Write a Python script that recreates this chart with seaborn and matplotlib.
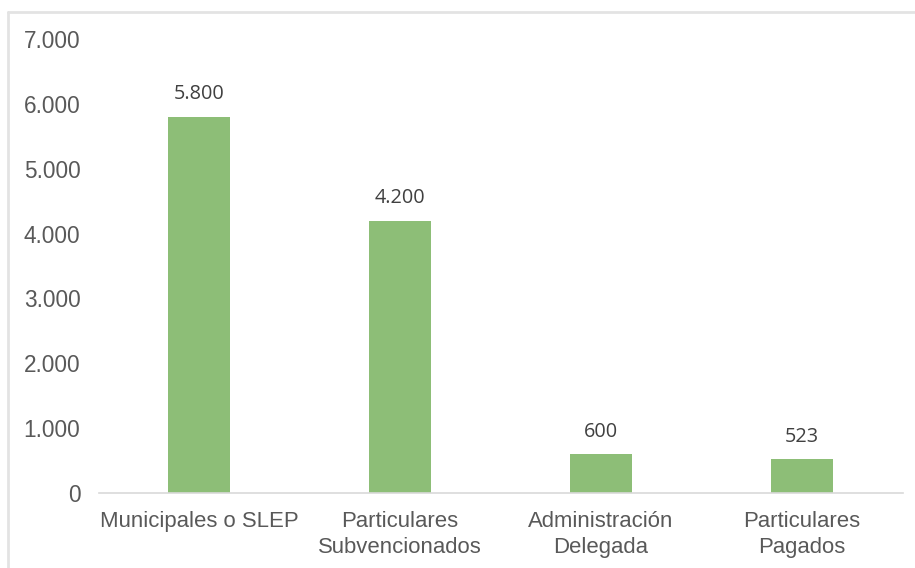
import matplotlib
matplotlib.use("Agg")
import matplotlib.pyplot as plt
from matplotlib.lines import Line2D
import seaborn as sns
import pandas as pd

categorias = ["Municipales o SLEP", "Particulares\nSubvencionados",
              "Administración\nDelegada", "Particulares\nPagados"]
valores = [5800, 4200, 600, 523]
ticks_y = [0, 1000, 2000, 3000, 4000, 5000, 6000, 7000]
etiquetas_y = ["0", "1.000", "2.000", "3.000", "4.000", "5.000", "6.000", "7.000"]

sns.set_style("white")
plt.rcParams["font.family"] = ["Liberation Sans", "DejaVu Sans"]

fig = plt.figure(figsize=(9.15, 5.68), dpi=100)
ax = fig.add_axes([98.5 / 915, 1 - 493 / 568, 804 / 915, 454 / 568])

df = pd.DataFrame({"categoria": categorias, "valor": valores})
sns.barplot(data=df, x="categoria", y="valor", color="#8DBE77",
            saturation=1, width=0.31, linewidth=0, ax=ax)

ax.set_ylim(0, 7000)
ax.set_xlim(-0.5, len(categorias) - 0.5)
ax.set_yticks(ticks_y)
ax.set_yticklabels(etiquetas_y)
ax.set_xlabel("")
ax.set_ylabel("")

for s in ["top", "right", "left"]:
    ax.spines[s].set_visible(False)
ax.spines["bottom"].set_color("#D9D9D9")
ax.spines["bottom"].set_linewidth(1.2)

ax.tick_params(axis="y", length=0, pad=13, labelsize=16.3, labelcolor="#595959")
ax.tick_params(axis="x", length=0, pad=13, labelsize=15.9, labelcolor="#595959")
for lbl in ax.get_xticklabels():
    lbl.set_linespacing(1.3)

# value labels above each bar
for i, v in enumerate(valores):
    texto = f"{v:,}".replace(",", ".")
    ax.annotate(texto, (i, v), xytext=(0, 9), textcoords="offset points",
                ha="center", va="bottom", fontsize=14.3, color="#404040",
                family=["Open Sans", "DejaVu Sans"])

# light frame around the chart area
fig.add_artist(Line2D([8 / 915, 1.0], [1 - 12 / 568, 1 - 12 / 568],
                      color="#E3E3E3", lw=2, transform=fig.transFigure))
fig.add_artist(Line2D([8 / 915, 8 / 915], [0.0, 1 - 12 / 568],
                      color="#E3E3E3", lw=2, transform=fig.transFigure))

fig.savefig("out.png", dpi=100, facecolor="white")
